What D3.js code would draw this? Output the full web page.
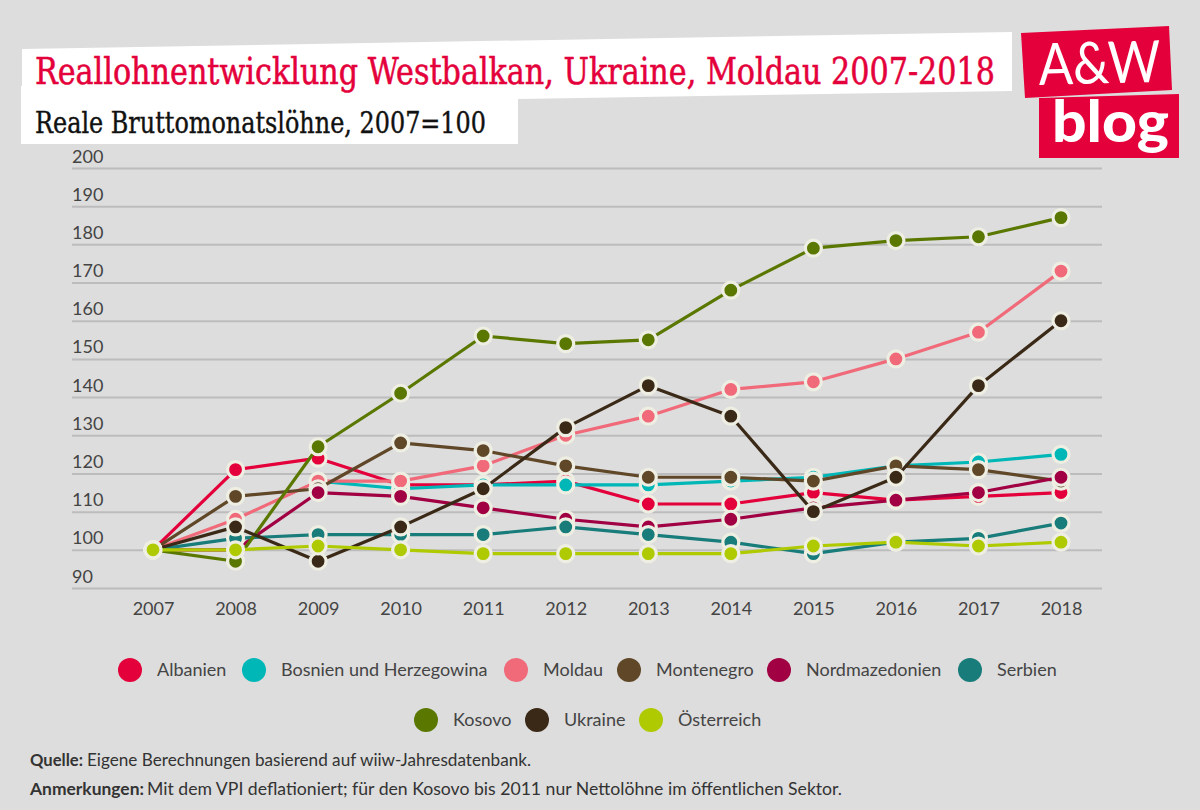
<!DOCTYPE html>
<html>
<head>
<meta charset="utf-8">
<script src="https://cdn.jsdelivr.net/npm/d3@7"></script>
<style>
  html, body { margin: 0; padding: 0; background: #dddddd; }
  svg { display: block; }
  text { font-family: Lato, sans-serif; }
</style>
</head>
<body>
<div id="chart"></div>
<script>
// 数据
const years = [2007, 2008, 2009, 2010, 2011, 2012, 2013, 2014, 2015, 2016, 2017, 2018];
const yTicks = [90, 100, 110, 120, 130, 140, 150, 160, 170, 180, 190, 200];

const albanien = [100, 121, 124, 117, 117, 118, 112, 112, 115, 113, 114, 115];
const bosnien = [null, null, 118, 116, 117, 117, 117, 118, 119, 122, 123, 125];
const moldau = [100, 108, 118, 118, 122, 130, 135, 142, 144, 150, 157, 173];
const montenegro = [100, 114, 116, 128, 126, 122, 119, 119, 118, 122, 121, 118];
const nordmazedonien = [100, 100, 115, 114, 111, 108, 106, 108, 111, 113, 115, 119];
const serbien = [100, 103, 104, 104, 104, 106, 104, 102, 99, 102, 103, 107];
const kosovo = [100, 97, 127, 141, 156, 154, 155, 168, 179, 181, 182, 187];
const ukraine = [100, 106, 97, 106, 116, 132, 143, 135, 110, 119, 143, 160];
const oesterreich = [100, 100, 101, 100, 99, 99, 99, 99, 101, 102, 101, 102];

const seriesNames = ["Albanien", "Bosnien und Herzegowina", "Moldau", "Montenegro", "Nordmazedonien", "Serbien", "Kosovo", "Ukraine", "Österreich"];
const seriesValues = [albanien, bosnien, moldau, montenegro, nordmazedonien, serbien, kosovo, ukraine, oesterreich];
const seriesColors = ["#e4003a", "#00b7b8", "#f06a7a", "#5f4728", "#a10042", "#187c7a", "#5a7800", "#3a2916", "#afca00"];

// 布局
const width = 1200, height = 810;
const red = "#e4003a";
const legendPos = [[130, 670], [254, 670], [516, 670], [629, 670], [779, 670], [970, 670], [426, 720], [537, 720], [651, 720]];

const svg = d3.select("#chart").append("svg")
    .attr("width", width)
    .attr("height", height);

svg.append("rect").attr("width", width).attr("height", height).attr("fill", "#dddddd");

const x = d3.scalePoint().domain(years).range([153, 1061]);
const y = d3.scaleLinear().domain([90, 200]).range([588, 168]);

// 坐标轴
const yAxis = svg.append("g")
    .attr("transform", "translate(72,0)")
    .call(d3.axisRight(y).tickValues(yTicks).tickSize(1030));
yAxis.select(".domain").remove();
yAxis.selectAll("line").attr("stroke", "#bcbcbc").attr("stroke-width", 2);
yAxis.selectAll("text")
    .attr("x", 0)
    .attr("dy", -6)
    .attr("text-anchor", "start")
    .attr("font-size", 18)
    .attr("font-family", "Lato, sans-serif")
    .attr("fill", "#444444");

const xAxis = svg.append("g")
    .attr("transform", "translate(0,589)")
    .call(d3.axisBottom(x).tickFormat(d3.format("d")).tickSize(0));
xAxis.select(".domain").remove();
xAxis.selectAll("text")
    .attr("y", 13)
    .attr("font-size", 18)
    .attr("font-family", "Lato, sans-serif")
    .attr("fill", "#444444");

// 折线与标记
const line = d3.line()
    .defined(d => d !== null)
    .x((d, i) => x(years[i]))
    .y(d => y(d));

seriesNames.forEach((name, s) => {
    const g = svg.append("g").attr("class", "series");
    g.append("path")
        .attr("d", line(seriesValues[s]))
        .attr("fill", "none")
        .attr("stroke", seriesColors[s])
        .attr("stroke-width", 3.2)
        .attr("stroke-linejoin", "round");
    g.selectAll("circle")
        .data(seriesValues[s].map((v, i) => ({ v, year: years[i] })).filter(d => d.v !== null))
        .join("circle")
        .attr("cx", d => x(d.year))
        .attr("cy", d => y(d.v))
        .attr("r", 8)
        .attr("fill", seriesColors[s])
        .attr("stroke", "#eeeee2")
        .attr("stroke-width", 3.2);
});

// 图例
seriesNames.forEach((name, s) => {
    const [lx, ly] = legendPos[s];
    svg.append("circle").attr("cx", lx).attr("cy", ly).attr("r", 12).attr("fill", seriesColors[s]);
    svg.append("text")
        .attr("x", lx + 27)
        .attr("y", ly + 6)
        .attr("font-size", 18)
        .attr("fill", "#444444")
        .text(name);
});

// 标题
svg.append("polygon")
    .attr("points", "22,49 1012,32 1012,91 518,99 518,144 21,144 21,86 22,86")
    .attr("fill", "#ffffff");
svg.append("text")
    .attr("x", 35).attr("y", 84)
    .attr("font-size", 37)
    .attr("textLength", 960)
    .attr("lengthAdjust", "spacingAndGlyphs")
    .attr("fill", red)
    .attr("stroke", red)
    .attr("stroke-width", 0.5)
    .style("font-family", "'DejaVu Serif Condensed', 'DejaVu Serif', serif")
    .text("Reallohnentwicklung Westbalkan, Ukraine, Moldau 2007-2018");
svg.append("text")
    .attr("x", 35).attr("y", 133)
    .attr("font-size", 30)
    .attr("textLength", 451)
    .attr("lengthAdjust", "spacingAndGlyphs")
    .attr("fill", "#111111")
    .attr("stroke", "#111111")
    .attr("stroke-width", 0.4)
    .style("font-family", "'DejaVu Serif Condensed', 'DejaVu Serif', serif")
    .text("Reale Bruttomonatslöhne, 2007=100");

// 标志
svg.append("polygon").attr("points", "1021,33 1169,26 1172,90 1025,98").attr("fill", red);
svg.append("polygon").attr("points", "1039,98 1179,94 1179,158 1039,158").attr("fill", red);
svg.append("text")
    .attr("transform", "translate(1039,85) rotate(-1.5)")
    .attr("font-size", 58)
    .attr("textLength", 122)
    .attr("lengthAdjust", "spacingAndGlyphs")
    .attr("font-weight", 400)
    .attr("fill", "#ffffff")
    .text("A&W");
svg.append("text")
    .attr("x", 1052).attr("y", 142)
    .attr("font-size", 58)
    .attr("textLength", 117)
    .attr("lengthAdjust", "spacingAndGlyphs")
    .attr("font-weight", 900)
    .attr("fill", "#ffffff")
    .text("blog");

// 脚注
const footer = svg.append("g").attr("font-size", 17).attr("fill", "#333333");
function footLine(yPos, boldText, boldLen, restX, restLen, restText) {
    footer.append("text").attr("x", 30).attr("y", yPos)
        .attr("font-weight", 700)
        .attr("textLength", boldLen)
        .attr("lengthAdjust", "spacingAndGlyphs")
        .text(boldText);
    footer.append("text").attr("x", restX).attr("y", yPos)
        .attr("textLength", restLen)
        .attr("lengthAdjust", "spacingAndGlyphs")
        .text(restText);
}
footLine(766, "Quelle:", 53, 87, 444, "Eigene Berechnungen basierend auf wiiw-Jahresdatenbank.");
footLine(795, "Anmerkungen:", 114, 147, 695, "Mit dem VPI deflationiert; für den Kosovo bis 2011 nur Nettolöhne im öffentlichen Sektor.");
</script>
</body>
</html>
